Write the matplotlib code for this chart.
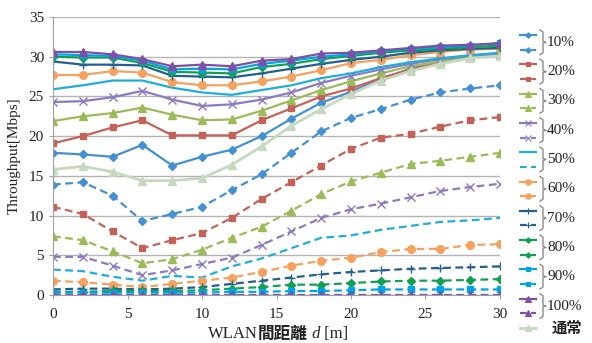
import matplotlib
matplotlib.use("Agg")
import matplotlib.pyplot as plt

plt.rcParams['font.family'] = ['Liberation Serif', 'Noto Sans CJK JP']

# WLAN distance [m]
dist = [0, 2, 4, 6, 8, 10, 12, 14, 16, 18, 20, 22, 24, 26, 28, 30]

s10 = [17.9, 17.7, 17.4, 18.9, 16.3, 17.4, 18.3, 20.0, 22.2, 24.2, 25.6, 27.2, 28.5, 29.4, 30.0, 30.4]
d10 = [13.9, 14.2, 12.5, 9.3, 10.2, 11.1, 13.2, 15.2, 17.9, 20.6, 22.3, 23.4, 24.6, 25.5, 26.0, 26.4]
s20 = [19.1, 20.0, 21.1, 22.0, 20.1, 20.1, 20.1, 22.0, 23.5, 25.0, 26.0, 27.3, 28.4, 29.3, 29.9, 30.2]
d20 = [11.1, 10.2, 8.0, 5.9, 6.9, 7.8, 9.7, 12.1, 14.2, 16.3, 18.4, 19.8, 20.3, 21.2, 22.0, 22.4]
s30 = [21.9, 22.5, 22.9, 23.6, 22.7, 22.0, 22.1, 23.2, 24.5, 25.8, 26.9, 27.9, 28.8, 29.4, 30.0, 30.3]
d30 = [7.4, 6.9, 5.5, 4.0, 4.5, 5.7, 7.2, 8.6, 10.6, 12.7, 14.3, 15.4, 16.5, 16.9, 17.4, 17.9]
s40 = [24.3, 24.4, 24.9, 25.7, 24.6, 23.8, 24.0, 24.6, 25.5, 26.7, 27.6, 28.4, 29.1, 29.7, 30.1, 30.4]
d40 = [4.8, 4.8, 3.7, 2.5, 3.1, 3.9, 4.7, 6.3, 8.0, 9.7, 10.8, 11.5, 12.3, 13.1, 13.6, 14.0]
s50 = [25.9, 26.4, 27.0, 27.0, 26.1, 25.5, 25.2, 25.8, 26.4, 27.3, 27.9, 28.7, 29.3, 29.8, 30.2, 30.5]
d50 = [3.2, 3.0, 2.3, 1.8, 2.4, 2.2, 3.6, 4.6, 5.9, 7.2, 7.5, 8.2, 8.7, 9.2, 9.4, 9.7]
s60 = [27.7, 27.7, 28.2, 28.0, 26.8, 26.4, 26.4, 26.9, 27.5, 28.3, 29.2, 29.6, 30.2, 30.6, 30.9, 31.0]
d60 = [1.8, 1.6, 1.3, 1.0, 1.4, 1.8, 2.2, 2.9, 3.7, 4.3, 4.7, 5.4, 5.8, 5.8, 6.3, 6.4]
s70 = [29.4, 29.0, 29.0, 28.9, 27.6, 27.5, 27.4, 27.9, 28.5, 29.1, 29.6, 30.0, 30.5, 30.8, 31.0, 31.1]
d70 = [0.7, 0.8, 0.8, 0.7, 0.8, 1.0, 1.4, 1.8, 2.2, 2.6, 2.9, 3.1, 3.3, 3.4, 3.5, 3.6]
s80 = [30.0, 29.9, 29.9, 29.2, 28.1, 28.0, 27.9, 28.7, 29.1, 29.7, 30.1, 30.5, 30.8, 31.0, 31.2, 31.4]
d80 = [0.4, 0.4, 0.5, 0.5, 0.5, 0.6, 0.8, 1.0, 1.3, 1.3, 1.5, 1.7, 1.8, 1.8, 1.9, 2.0]
s90 = [30.3, 30.2, 30.1, 29.5, 28.4, 28.5, 28.4, 29.1, 29.5, 30.0, 30.3, 30.7, 31.0, 31.2, 31.4, 31.7]
d90 = [0.3, 0.3, 0.3, 0.3, 0.3, 0.3, 0.4, 0.4, 0.5, 0.5, 0.6, 0.7, 0.7, 0.7, 0.7, 0.7]
s100 = [30.6, 30.6, 30.3, 29.7, 28.8, 29.0, 28.8, 29.5, 29.7, 30.4, 30.5, 30.8, 31.1, 31.4, 31.5, 31.7]
d100 = [0.05, 0.05, 0.05, 0.05, 0.05, 0.05, 0.05, 0.05, 0.05, 0.05, 0.05, 0.05, 0.05, 0.05, 0.05, 0.05]
normal = [15.8, 16.2, 15.5, 14.4, 14.4, 14.7, 16.4, 18.7, 21.3, 23.4, 25.3, 27.0, 28.2, 29.1, 29.8, 30.1]

labels = ['10%', '20%', '30%', '40%', '50%', '60%', '70%', '80%', '90%', '100%']
solid = [s10, s20, s30, s40, s50, s60, s70, s80, s90, s100]
dashed = [d10, d20, d30, d40, d50, d60, d70, d80, d90, d100]

colors = ['#4390D3', '#C4625A', '#9BBB59', '#8C7CBF', '#1EAEDB',
          '#F4A25E', '#22608F', '#12A150', '#00A3E8', '#7E4FA6']
markers = ['D', 's', '^', 'x', None, 'o', '+', 'D', 's', '^']
msizes = [4, 5, 5.5, 5.5, 0, 5.5, 5.5, 4, 5, 5.5]
normal_color = '#C6D9C0'

fig = plt.figure(figsize=(5.92, 3.43), dpi=100)
ax = fig.add_axes([53 / 592, 1 - 295 / 343, 447 / 592, 278 / 343])

for i in range(10):
    kw = dict(color=colors[i], marker=markers[i], markersize=msizes[i],
              markeredgewidth=1.0, lw=1.6)
    ax.plot(dist, solid[i], ls='-', **kw)
    ax.plot(dist, dashed[i], ls=(0, (3.5, 2)), **kw)
ax.plot(dist, normal, color=normal_color, marker='^', markersize=5.5, lw=2)

ax.set_xlim(0, 30)
ax.set_ylim(0, 35)
ax.set_xticks(range(0, 31, 5))
ax.set_yticks(range(0, 36, 5))
ax.grid(axis='y', color='#B4B4B4', lw=1)
ax.set_axisbelow(True)
for side in ['top', 'right']:
    ax.spines[side].set_visible(False)
for side in ['left', 'bottom']:
    ax.spines[side].set_color('#A0A0A0')
ax.tick_params(axis='both', colors='#A0A0A0', labelcolor='#222222',
               labelsize=11, length=3)
ax.tick_params(axis='x', pad=6)
ax.set_ylabel('Throughput[Mbps]', fontsize=11, labelpad=6, color='#222222')

# x label built from pieces (serif / bold gothic / italic)
fig.canvas.draw()
r = fig.canvas.get_renderer()
pieces = [('WLAN', dict(family='Liberation Serif')),
          ('間距離', dict(family='Noto Sans CJK JP', weight='bold')),
          (' d', dict(family='Liberation Serif', style='italic')),
          (' [m]', dict(family='Liberation Serif'))]
xpix = 208
for txt, kw in pieces:
    t = fig.text(xpix / 592, 1 - 334 / 343, txt, fontsize=12, va='center',
                 ha='left', color='#222222', **kw)
    bb = t.get_window_extent(r)
    xpix += bb.width

# custom legend: pairs with bracket
lg = fig.add_axes([0, 0, 1, 1], zorder=5)
lg.set_xlim(0, 592)
lg.set_ylim(343, 0)
lg.axis('off')
row0 = 35
step = 14.65
for i in range(10):
    ys = row0 + 2 * i * step
    yd = ys + step
    mk = dict(color=colors[i], marker=markers[i], markersize=msizes[i] * 0.7,
              markeredgewidth=0.8, ls='none', clip_on=False)
    lg.plot([520, 536], [ys, ys], color=colors[i], ls='-', lw=1.6, clip_on=False)
    lg.plot([528], [ys], **mk)
    lg.plot([520, 536], [yd, yd], color=colors[i], ls=(0, (3, 2)), lw=1.6,
            clip_on=False)
    lg.plot([528], [yd], **mk)
    top, bot, mid = ys - 5, yd + 5, (ys + yd) / 2
    lg.plot([540, 543, 543, 546, 543, 543, 540],
            [top, top + 2, mid - 1, mid, mid + 1, bot - 2, bot],
            color='#8C8C8C', lw=1, clip_on=False)
    lg.text(547, mid, labels[i], fontsize=11, va='center', ha='left',
            color='#222222')
yn = row0 + 20 * step
lg.plot([520, 536], [yn, yn], color=normal_color, lw=2, clip_on=False)
lg.plot([528], [yn], color=normal_color, marker='^', markersize=4,
        clip_on=False)
lg.text(552, yn, '通常', fontsize=11, va='center', ha='left',
        family='Noto Sans CJK JP', weight='bold', color='#222222')

fig.savefig('out.png', dpi=100)
